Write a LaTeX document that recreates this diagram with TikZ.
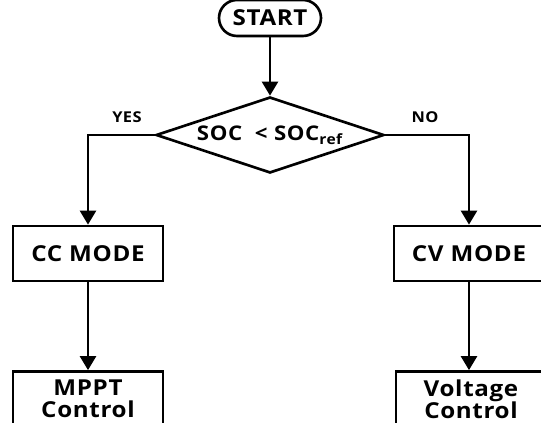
\documentclass[tikz,border=0pt]{standalone}
\usepackage{fontspec}
\setmainfont{Open Sans}[FakeStretch=1.1, LetterSpace=3]
\usetikzlibrary{arrows.meta,shapes.geometric}
\tikzset{
    box/.style={draw, line width=1.5pt, minimum height=1.1cm,
                minimum width=3.0cm, inner sep=2pt, align=center,
                font=\fontsize{12.5}{12.5}\selectfont\bfseries},
    terminal/.style={box, rounded corners=0.36cm, minimum height=0.72cm,
                minimum width=2.04cm},
    flow/.style={-{Triangle[length=8pt,width=9pt]}, line width=1.7pt},
    note/.style={font=\fontsize{8.5}{9}\selectfont\bfseries, align=center},
    choice/.style={diamond, draw, line width=1.5pt, inner sep=0pt, aspect=3.5,
                   minimum width=4.56cm, minimum height=1.52cm, align=center,
                   font=\fontsize{11.5}{12}\selectfont\bfseries},
}
\begin{document}
\begin{tikzpicture}
    \useasboundingbox (0,0) rectangle (10.82,8.46);
    \clip (0,0) rectangle (10.82,8.46);

    \node[terminal] (start) at (5.40,8.10) {START};
    \node[choice] (check) at (5.40,5.76) {SOC\ \ < SOC\textsubscript{ref}};
    \node[note] at (2.54,6.12) {YES};
    \node[note] at (8.50,6.12) {NO};

    \node[box] (ccmode) at (1.76,3.39) {CC MODE};
    \node[box] (cvmode) at (9.38,3.39) {CV MODE};
    \node[box] (mppt) at (1.76,0.48) {MPPT\\Control};
    \node[box] (voltage) at (9.42,0.48) {Voltage\\Control};

    \draw[flow] (start) -- (check);
    \draw[flow] (check.west) -| (ccmode.north);
    \draw[flow] (check.east) -| (cvmode.north);
    \draw[flow] (ccmode) -- (mppt);
    \draw[flow] (cvmode) -- (cvmode |- voltage.north);
\end{tikzpicture}
\end{document}
